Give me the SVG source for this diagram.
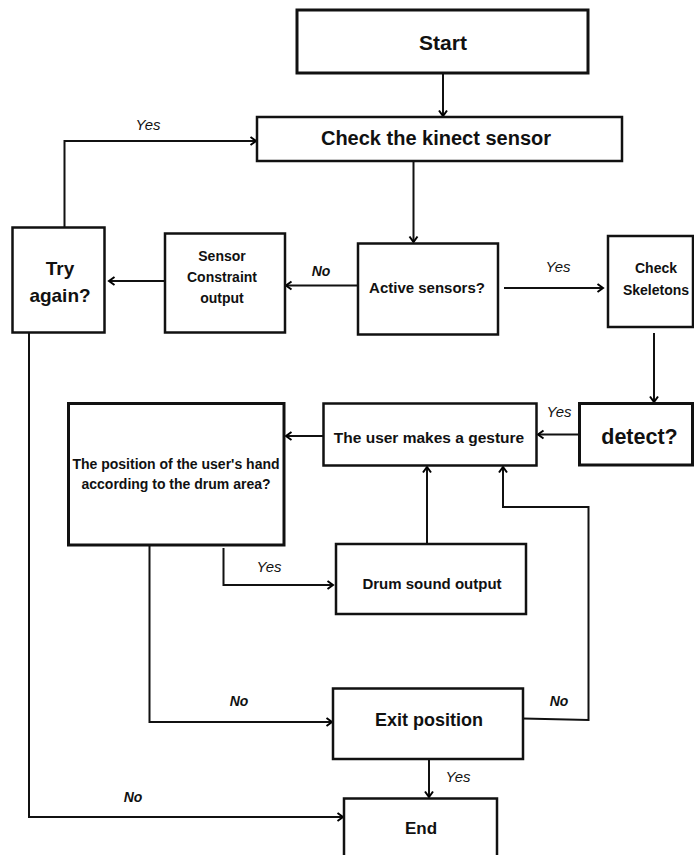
<svg xmlns="http://www.w3.org/2000/svg" width="694" height="855" viewBox="0 0 694 855">
<defs>
<marker id="arr" markerUnits="userSpaceOnUse" markerWidth="12" markerHeight="12" refX="7" refY="5" orient="auto">
<path d="M1.5,1 L7,5 L1.5,9" fill="none" stroke="#000" stroke-width="2"/>
</marker>
<style>
.box{fill:#fff;stroke:#111;stroke-width:2.5}
.thick{stroke-width:3}
.t{font-family:"Liberation Sans",Arial,sans-serif;font-weight:bold;fill:#111;text-anchor:middle}
.lbl{font-family:"Liberation Sans",Arial,sans-serif;font-style:italic;font-size:15px;fill:#111;text-anchor:middle}
.no{font-weight:bold;font-size:14px}
.c{fill:none;stroke:#111;stroke-width:2}
.a{marker-end:url(#arr)}
</style>
</defs>
<rect width="694" height="855" fill="#fff"/>
<g id="connectors">
<path class="c a" d="M443,73 V116"/>
<path class="c a" d="M413.5,161 V242"/>
<path class="c a" d="M358,285.5 H286"/>
<path class="c a" d="M164,281 H109"/>
<path class="c a" d="M504,288 H603"/>
<path class="c a" d="M64.5,227 V141 H256"/>
<path class="c a" d="M654,333 V402"/>
<path class="c a" d="M579,434.5 H538"/>
<path class="c a" d="M323,436 H286"/>
<path class="c a" d="M223.5,548 V585 H333"/>
<path class="c a" d="M427,544 V467"/>
<path class="c a" d="M149.5,545 V722 H332"/>
<path class="c a" d="M523,718.5 L588.5,720 V507 H503 V467"/>
<path class="c a" d="M429,759 V797"/>
<path class="c a" d="M29,332 V817 H343"/>
<text class="lbl" x="148" y="130">Yes</text>
<text class="lbl no" x="321" y="276">No</text>
<text class="lbl" x="558" y="272">Yes</text>
<text class="lbl" x="559" y="417">Yes</text>
<text class="lbl" x="269" y="572">Yes</text>
<text class="lbl no" x="239" y="706">No</text>
<text class="lbl no" x="559" y="706">No</text>
<text class="lbl" x="458" y="782">Yes</text>
<text class="lbl no" x="133" y="802">No</text>
</g>
<g id="start">
<rect class="box thick" x="297" y="10" width="291" height="63"/>
<text class="t" x="443" y="49.5" font-size="21">Start</text>
</g>
<g id="check-kinect">
<rect class="box" x="257" y="117" width="365" height="44"/>
<text class="t" x="436" y="145" font-size="20">Check the kinect sensor</text>
</g>
<g id="try-again">
<rect class="box" x="12.5" y="227.5" width="92" height="105"/>
<text class="t" x="60" y="275" font-size="19">Try</text>
<text class="t" x="60" y="302" font-size="19">again?</text>
</g>
<g id="sensor-constraint">
<rect class="box" x="165" y="233.5" width="120" height="99"/>
<text class="t" x="222" y="261" font-size="14">Sensor</text>
<text class="t" x="222" y="282" font-size="14">Constraint</text>
<text class="t" x="222" y="303" font-size="14">output</text>
</g>
<g id="active-sensors">
<rect class="box" x="358" y="243.5" width="140" height="91"/>
<text class="t" x="427" y="292.5" font-size="15">Active sensors?</text>
</g>
<g id="check-skeletons">
<rect class="box" x="608" y="236" width="85" height="91"/>
<text class="t" x="656" y="273" font-size="14">Check</text>
<text class="t" x="656" y="295" font-size="14">Skeletons</text>
</g>
<g id="detect">
<rect class="box thick" x="579.5" y="403.5" width="113" height="61.5"/>
<text class="t" x="639.5" y="443.5" font-size="21.5">detect?</text>
</g>
<g id="gesture">
<rect class="box" x="323.5" y="403.5" width="213" height="62"/>
<text class="t" x="429" y="442.5" font-size="15.5">The user makes a gesture</text>
</g>
<g id="hand-position">
<rect class="box thick" x="68.5" y="403.5" width="215.5" height="141.5"/>
<text class="t" x="176" y="469" font-size="14">The position of the user's hand</text>
<text class="t" x="176" y="489" font-size="14">according to the drum area?</text>
</g>
<g id="drum-sound">
<rect class="box" x="336" y="544" width="190" height="70"/>
<text class="t" x="432" y="588.5" font-size="15">Drum sound output</text>
</g>
<g id="exit-position">
<rect class="box" x="333" y="688.5" width="190" height="70.5"/>
<text class="t" x="429" y="725.5" font-size="18">Exit position</text>
</g>
<g id="end">
<rect class="box" x="344" y="798.5" width="153" height="80"/>
<text class="t" x="421" y="834" font-size="17">End</text>
</g>
</svg>
